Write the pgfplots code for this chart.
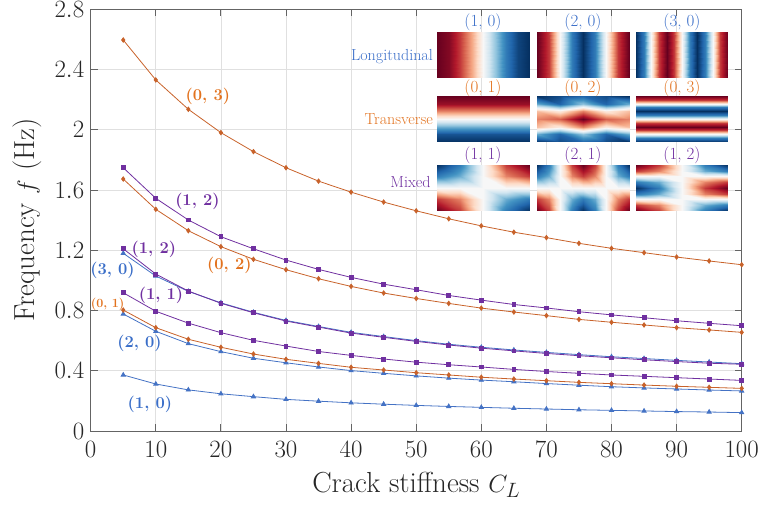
\documentclass[border=0pt]{standalone}
\usepackage{pgfplots}
\usepackage{pgfplotstable}
\pgfplotsset{compat=1.18}
\definecolor{cblue}{RGB}{68,114,196}
\definecolor{corange}{RGB}{200,98,42}
\definecolor{cpurple}{RGB}{112,48,160}
\definecolor{tblue}{RGB}{58,110,200}
\definecolor{torange}{RGB}{226,114,30}
\definecolor{tpurple}{RGB}{112,48,160}
\definecolor{axgray}{RGB}{100,100,100}
\pgfplotsset{
  colormap={rdbu}{rgb255=(5,48,97) rgb255=(33,102,172) rgb255=(67,147,195) rgb255=(146,197,222) rgb255=(209,229,240) rgb255=(247,247,247) rgb255=(253,219,199) rgb255=(244,165,130) rgb255=(214,96,77) rgb255=(178,24,43) rgb255=(103,0,31)},
  inset/.style={anchor=south west, scale only axis, width=92pt, height=46pt, hide axis,
    view={0}{90}, xmin=0, xmax=1, ymin=0, ymax=1, colormap name=rdbu,
    point meta min=-1, point meta max=1},
}
\pgfplotstableread{
x m03 m12u m02 m12l m30 m11 m01 m20 m10
5 2.596 1.748 1.673 1.210 1.180 0.918 0.803 0.777 0.372
10 2.331 1.545 1.472 1.042 1.029 0.795 0.686 0.662 0.312
15 2.136 1.401 1.330 0.929 0.927 0.716 0.609 0.580 0.273
20 1.981 1.290 1.224 0.848 0.851 0.653 0.556 0.527 0.247
25 1.855 1.210 1.140 0.785 0.788 0.602 0.511 0.483 0.228
30 1.748 1.135 1.071 0.730 0.734 0.564 0.476 0.453 0.210
35 1.659 1.073 1.011 0.690 0.694 0.528 0.449 0.425 0.198
40 1.586 1.020 0.960 0.650 0.655 0.502 0.423 0.401 0.187
45 1.520 0.975 0.916 0.622 0.627 0.478 0.405 0.383 0.178
50 1.462 0.938 0.880 0.595 0.600 0.457 0.387 0.366 0.170
55 1.409 0.900 0.847 0.571 0.576 0.440 0.372 0.351 0.163
60 1.362 0.869 0.816 0.550 0.556 0.425 0.357 0.338 0.157
65 1.320 0.840 0.790 0.532 0.538 0.409 0.345 0.327 0.151
70 1.284 0.817 0.766 0.515 0.522 0.395 0.334 0.315 0.146
75 1.246 0.792 0.741 0.500 0.507 0.383 0.323 0.304 0.141
80 1.213 0.771 0.722 0.486 0.493 0.372 0.314 0.294 0.137
85 1.184 0.752 0.704 0.473 0.481 0.363 0.305 0.286 0.133
90 1.155 0.732 0.686 0.461 0.469 0.354 0.297 0.279 0.129
95 1.129 0.715 0.671 0.450 0.458 0.345 0.290 0.272 0.126
100 1.104 0.699 0.655 0.443 0.447 0.336 0.283 0.266 0.122
}\modes
\begin{document}
\begin{tikzpicture}
\begin{axis}[
  name=main, anchor=south west, at={(0,0)},
  scale only axis, width=651pt, height=421.7pt,
  xmin=0, xmax=100, ymin=0, ymax=2.8,
  xtick={0,10,20,30,40,50,60,70,80,90,100},
  ytick={0,0.4,0.8,1.2,1.6,2,2.4,2.8},
  grid=major, major grid style={color=black!12, line width=0.6pt},
  tick align=inside, major tick length=7pt,
  axis line style={axgray, line width=0.8pt}, tick style={axgray, line width=0.8pt},
  tick label style={font=\fontsize{26}{30}\selectfont, text=black!85},
  xticklabel style={yshift=-7pt},
  yticklabel style={xshift=-3pt},
  label style={font=\fontsize{29}{34}\selectfont, text=black!85},
  xlabel={Crack stiffness $C_L$}, ylabel={Frequency $f$ (Hz)},
  xlabel style={at={(axis description cs:0.5,-0.128)}, anchor=center},
  ylabel style={at={(axis description cs:-0.097,0.5)}, anchor=center},
  every axis plot/.append style={line width=0.8pt},
]
\addplot[cblue, mark=triangle*, mark size=2.4pt, mark options={solid}] table[x=x,y=m10] {\modes};
\addplot[cblue, mark=triangle*, mark size=2.4pt, mark options={solid}] table[x=x,y=m20] {\modes};
\addplot[cblue, mark=triangle*, mark size=2.4pt, mark options={solid}] table[x=x,y=m30] {\modes};
\addplot[corange, mark=diamond*, mark size=2.2pt, mark options={solid}] table[x=x,y=m01] {\modes};
\addplot[corange, mark=diamond*, mark size=2.2pt, mark options={solid}] table[x=x,y=m02] {\modes};
\addplot[corange, mark=diamond*, mark size=2.2pt, mark options={solid}] table[x=x,y=m03] {\modes};
\addplot[cpurple, mark=square*, mark size=1.9pt, mark options={solid}] table[x=x,y=m11] {\modes};
\addplot[cpurple, mark=square*, mark size=1.9pt, mark options={solid}] table[x=x,y=m12l] {\modes};
\addplot[cpurple, mark=square*, mark size=1.9pt, mark options={solid}] table[x=x,y=m12u] {\modes};
\begin{scope}[font=\fontsize{16.5}{19}\selectfont\bfseries]
\node[torange] at (axis cs:18.0,2.221) {(0, 3)};
\node[tpurple] at (axis cs:16.4,1.527) {(1, 2)};
\node[torange] at (axis cs:21.3,1.099) {(0, 2)};
\node[tpurple] at (axis cs:9.7,1.205) {(1, 2)};
\node[tblue] at (axis cs:3.35,1.066) {(3, 0)};
\node[tpurple] at (axis cs:10.8,0.900) {(1, 1)};
\node[tblue] at (axis cs:7.5,0.581) {(2, 0)};
\node[tblue] at (axis cs:9.1,0.176) {(1, 0)};
\end{scope}
\node[torange, font=\fontsize{12.5}{15}\selectfont\bfseries] at (axis cs:2.6,0.843) {(0, 1)};
\end{axis}
% ---- mode shape insets ----
% (1,0)
\begin{axis}[inset, at={(346.3pt,353pt)}]
\addplot3[surf, shader=interp, mesh/cols=9] table[row sep=\\] {
x y z\\
0 0 1\\ 0.125 0 0.924\\ 0.25 0 0.707\\ 0.375 0 0.383\\ 0.5 0 0\\ 0.625 0 -0.383\\ 0.75 0 -0.707\\ 0.875 0 -0.924\\ 1 0 -1\\
0 1 1\\ 0.125 1 0.924\\ 0.25 1 0.707\\ 0.375 1 0.383\\ 0.5 1 0\\ 0.625 1 -0.383\\ 0.75 1 -0.707\\ 0.875 1 -0.924\\ 1 1 -1\\
};
\end{axis}
% (2,0)
\begin{axis}[inset, at={(446.3pt,353pt)}]
\addplot3[surf, shader=interp, mesh/cols=9] table[row sep=\\] {
x y z\\
0 0 1\\ 0.125 0 0.707\\ 0.25 0 0\\ 0.375 0 -0.707\\ 0.5 0 -1\\ 0.625 0 -0.707\\ 0.75 0 0\\ 0.875 0 0.707\\ 1 0 1\\
0 1 1\\ 0.125 1 0.707\\ 0.25 1 0\\ 0.375 1 -0.707\\ 0.5 1 -1\\ 0.625 1 -0.707\\ 0.75 1 0\\ 0.875 1 0.707\\ 1 1 1\\
};
\end{axis}
% (3,0)
\begin{axis}[inset, at={(545.3pt,353pt)}]
\addplot3[surf, shader=interp, mesh/cols=13] table[row sep=\\] {
x y z\\
0 0 -1\\ 0.0833 0 -0.707\\ 0.1667 0 0\\ 0.25 0 0.707\\ 0.3333 0 1\\ 0.4167 0 0.707\\ 0.5 0 0\\ 0.5833 0 -0.707\\ 0.6667 0 -1\\ 0.75 0 -0.707\\ 0.8333 0 0\\ 0.9167 0 0.707\\ 1 0 1\\
0 1 -1\\ 0.0833 1 -0.707\\ 0.1667 1 0\\ 0.25 1 0.707\\ 0.3333 1 1\\ 0.4167 1 0.707\\ 0.5 1 0\\ 0.5833 1 -0.707\\ 0.6667 1 -1\\ 0.75 1 -0.707\\ 0.8333 1 0\\ 0.9167 1 0.707\\ 1 1 1\\
};
\end{axis}
% (0,1)
\begin{axis}[inset, at={(346.3pt,289pt)}]
\addplot3[surf, shader=interp, mesh/cols=2] table[row sep=\\] {
x y z\\
0 0 -1\\ 1 0 -1\\
0 0.1667 -0.866\\ 1 0.1667 -0.866\\
0 0.3333 -0.5\\ 1 0.3333 -0.5\\
0 0.5 0\\ 1 0.5 0\\
0 0.6667 0.5\\ 1 0.6667 0.5\\
0 0.8333 0.866\\ 1 0.8333 0.866\\
0 1 1\\ 1 1 1\\
};
\end{axis}
% (0,2)
\begin{axis}[inset, at={(446.3pt,289pt)}]
\addplot3[surf, shader=interp, mesh/cols=5] table[row sep=\\] {
x y z\\
0 0 -1\\ 0.25 0 -0.9\\ 0.5 0 -0.8\\ 0.75 0 -0.9\\ 1 0 -1\\
0 0.1667 -0.5\\ 0.25 0.1667 -0.8\\ 0.5 0.1667 -0.4\\ 0.75 0.1667 -0.8\\ 1 0.1667 -0.5\\
0 0.3333 0.3\\ 0.25 0.3333 0.1\\ 0.5 0.3333 0.5\\ 0.75 0.3333 0.1\\ 1 0.3333 0.3\\
0 0.5 0.5\\ 0.25 0.5 0.6\\ 0.5 0.5 1\\ 0.75 0.5 0.6\\ 1 0.5 0.5\\
0 0.6667 0.3\\ 0.25 0.6667 0.1\\ 0.5 0.6667 0.5\\ 0.75 0.6667 0.1\\ 1 0.6667 0.3\\
0 0.8333 -0.5\\ 0.25 0.8333 -0.8\\ 0.5 0.8333 -0.4\\ 0.75 0.8333 -0.8\\ 1 0.8333 -0.5\\
0 1 -1\\ 0.25 1 -0.9\\ 0.5 1 -0.8\\ 0.75 1 -0.9\\ 1 1 -1\\
};
\end{axis}
% (0,3)
\begin{axis}[inset, at={(545.3pt,289pt)}]
\addplot3[surf, shader=interp, mesh/cols=2] table[row sep=\\] {
x y z\\
0 0 -1\\ 1 0 -1\\
0 0.0833 -0.707\\ 1 0.0833 -0.707\\
0 0.1667 0\\ 1 0.1667 0\\
0 0.25 0.707\\ 1 0.25 0.707\\
0 0.3333 1\\ 1 0.3333 1\\
0 0.4167 0.707\\ 1 0.4167 0.707\\
0 0.5 0\\ 1 0.5 0\\
0 0.5833 -0.707\\ 1 0.5833 -0.707\\
0 0.6667 -1\\ 1 0.6667 -1\\
0 0.75 -0.707\\ 1 0.75 -0.707\\
0 0.8333 0\\ 1 0.8333 0\\
0 0.9167 0.707\\ 1 0.9167 0.707\\
0 1 1\\ 1 1 1\\
};
\end{axis}
% (1,1)
\begin{axis}[inset, at={(346.3pt,220pt)}]
\addplot3[surf, shader=interp, mesh/cols=5] table[row sep=\\] {
x y z\\
0 0 1\\ 0.25 0 0.707\\ 0.5 0 0\\ 0.75 0 -0.707\\ 1 0 -1\\
0 0.25 0.707\\ 0.25 0.25 0.5\\ 0.5 0.25 0\\ 0.75 0.25 -0.5\\ 1 0.25 -0.707\\
0 0.5 0\\ 0.25 0.5 0\\ 0.5 0.5 0\\ 0.75 0.5 0\\ 1 0.5 0\\
0 0.75 -0.707\\ 0.25 0.75 -0.5\\ 0.5 0.75 0\\ 0.75 0.75 0.5\\ 1 0.75 0.707\\
0 1 -1\\ 0.25 1 -0.707\\ 0.5 1 0\\ 0.75 1 0.707\\ 1 1 1\\
};
\end{axis}
% (2,1)
\begin{axis}[inset, at={(446.3pt,220pt)}]
\addplot3[surf, shader=interp, mesh/cols=9] table[row sep=\\] {
x y z\\
0 0 1\\ 0.125 0 0.707\\ 0.25 0 0\\ 0.375 0 -0.707\\ 0.5 0 -1\\ 0.625 0 -0.707\\ 0.75 0 0\\ 0.875 0 0.707\\ 1 0 1\\
0 0.25 0.707\\ 0.125 0.25 0.5\\ 0.25 0.25 0\\ 0.375 0.25 -0.5\\ 0.5 0.25 -0.707\\ 0.625 0.25 -0.5\\ 0.75 0.25 0\\ 0.875 0.25 0.5\\ 1 0.25 0.707\\
0 0.5 0\\ 0.125 0.5 0\\ 0.25 0.5 0\\ 0.375 0.5 0\\ 0.5 0.5 0\\ 0.625 0.5 0\\ 0.75 0.5 0\\ 0.875 0.5 0\\ 1 0.5 0\\
0 0.75 -0.707\\ 0.125 0.75 -0.5\\ 0.25 0.75 0\\ 0.375 0.75 0.5\\ 0.5 0.75 0.707\\ 0.625 0.75 0.5\\ 0.75 0.75 0\\ 0.875 0.75 -0.5\\ 1 0.75 -0.707\\
0 1 -1\\ 0.125 1 -0.707\\ 0.25 1 0\\ 0.375 1 0.707\\ 0.5 1 1\\ 0.625 1 0.707\\ 0.75 1 0\\ 0.875 1 -0.707\\ 1 1 -1\\
};
\end{axis}
% (1,2)
\begin{axis}[inset, at={(545.3pt,220pt)}]
\addplot3[surf, shader=interp, mesh/cols=5] table[row sep=\\] {
x y z\\
0 0 1\\ 0.25 0 0.707\\ 0.5 0 0\\ 0.75 0 -0.707\\ 1 0 -1\\
0 0.125 0.707\\ 0.25 0.125 0.5\\ 0.5 0.125 0\\ 0.75 0.125 -0.5\\ 1 0.125 -0.707\\
0 0.25 0\\ 0.25 0.25 0\\ 0.5 0.25 0\\ 0.75 0.25 0\\ 1 0.25 0\\
0 0.375 -0.707\\ 0.25 0.375 -0.5\\ 0.5 0.375 0\\ 0.75 0.375 0.5\\ 1 0.375 0.707\\
0 0.5 -1\\ 0.25 0.5 -0.707\\ 0.5 0.5 0\\ 0.75 0.5 0.707\\ 1 0.5 1\\
0 0.625 -0.707\\ 0.25 0.625 -0.5\\ 0.5 0.625 0\\ 0.75 0.625 0.5\\ 1 0.625 0.707\\
0 0.75 0\\ 0.25 0.75 0\\ 0.5 0.75 0\\ 0.75 0.75 0\\ 1 0.75 0\\
0 0.875 0.707\\ 0.25 0.875 0.5\\ 0.5 0.875 0\\ 0.75 0.875 -0.5\\ 1 0.875 -0.707\\
0 1 1\\ 0.25 1 0.707\\ 0.5 1 0\\ 0.75 1 -0.707\\ 1 1 -1\\
};
\end{axis}
% inset titles and row labels
\begin{scope}[font=\fontsize{17}{20}\selectfont]
\node[tblue] at (392.3pt,409pt) {(1, 0)};
\node[tblue] at (492.3pt,409pt) {(2, 0)};
\node[tblue] at (591.3pt,409pt) {(3, 0)};
\node[torange] at (392.3pt,343pt) {(0, 1)};
\node[torange] at (492.3pt,343pt) {(0, 2)};
\node[torange] at (591.3pt,343pt) {(0, 3)};
\node[tpurple] at (392.3pt,276pt) {(1, 1)};
\node[tpurple] at (492.3pt,276pt) {(2, 1)};
\node[tpurple] at (591.3pt,276pt) {(1, 2)};
\end{scope}
\begin{scope}[font=\fontsize{16}{19}\selectfont]
\node[tblue, anchor=east, inner sep=0pt] at (342.3pt,374pt) {Longitudinal};
\node[torange, anchor=east, inner sep=0pt] at (342.3pt,312pt) {Transverse};
\node[tpurple, anchor=east, inner sep=0pt] at (340pt,249pt) {Mixed};
\end{scope}
\pgfresetboundingbox
\path[use as bounding box] (-90.7pt,-77pt) rectangle (673.3pt,431pt);
\end{tikzpicture}
\end{document}
